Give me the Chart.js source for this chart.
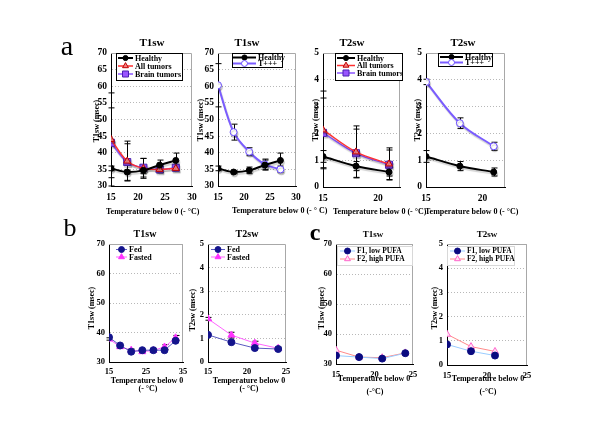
<!DOCTYPE html>
<html>
<head>
<meta charset="utf-8">
<script src="https://cdn.jsdelivr.net/npm/chart.js@4.4.0/dist/chart.umd.min.js"></script>
<style>
body { margin: 0; background: #fff; }
#fig { position: relative; width: 600px; height: 424px; overflow: hidden; font-family: "Liberation Serif", "Times New Roman", serif; }
#fig canvas { position: absolute; }
.t { position: absolute; white-space: nowrap; font-weight: bold; color: #000; line-height: 1; }
</style>
</head>
<body>
<div id="fig"></div>
<script>
// Temperatures (degrees below 0) for each group of measurements
var tempA = [15, 18, 21, 24, 27];
var tempA2 = [15, 18, 21];
var tempB1 = [15, 18, 21, 24, 27, 30, 33];
var tempB2 = [15, 18, 21, 24];
var tempC1 = [15, 18, 21, 24];
var tempC2 = [15, 18, 21];

// panel a, T1sw (msec)
var healthyT1 = [35.3, 34.2, 34.7, 36.3, 37.7];
var healthyT1Err = [0.7, 0.5, 1.0, 1.5, 2.2];
var allTumorsT1 = [44.0, 37.5, 35.3, 35.0, 35.3];
var allTumorsT1Err = [14.0, 6.0, 3.0, 1.0, 0.6];
var brainTumorsT1 = [43.0, 37.2, 35.5, 35.0, 35.5];
var brainTumorsT1Err = [10.5, 5.5, 2.8, 1.0, 0.6];
var tppT1 = [60.3, 46.2, 40.3, 36.5, 35.0];
var tppT1Err = [6.5, 2.4, 1.2, 1.6, 1.0];

// panel a, T2sw (msec)
var healthyT2 = [1.14, 0.78, 0.56];
var healthyT2Err = [0.22, 0.17, 0.15];
var allTumorsT2 = [2.13, 1.31, 0.86];
var allTumorsT2Err = [1.45, 0.97, 0.6];
var brainTumorsT2 = [2.02, 1.26, 0.83];
var brainTumorsT2Err = [1.3, 0.9, 0.55];
var tppT2 = [3.92, 2.38, 1.52];
var tppT2Err = [0.1, 0.2, 0.15];

// panel b, fed / fasted
var fedT1 = [38.4, 35.6, 33.5, 34.0, 34.0, 34.0, 37.2];
var fastedT1 = [37.8, 35.2, 34.0, 33.5, 33.9, 35.1, 38.2];
var fastedT1Err = [0.4, 0.4, 0.4, 0.4, 0.4, 0.8, 0.8];
var fedT2 = [1.15, 0.84, 0.59, 0.55];
var fastedT2 = [1.83, 1.14, 0.80, 0.58];
var fastedT2Err = [0.06, 0.12, 0.08, 0.05];

// panel c, diets
var f1T1 = [32.8, 32.3, 31.8, 33.6];
var f2T1 = [34.6, 32.3, 32.1, 33.7];
var f1T2 = [0.85, 0.57, 0.39];
var f2T2 = [1.27, 0.76, 0.56];

var SERIF = '"Liberation Serif", "Times New Roman", serif';
var L = 40, T = 12, R = 14, B = 26;
var fig = document.getElementById('fig');

Chart.defaults.font.family = SERIF;
Chart.defaults.color = '#000';

function pts(xs, ys) {
	return xs.map(function (x, i) { return {x: x, y: ys[i]}; });
}

function series(label, xs, ys, errs, style) {
	return Object.assign({label: label, data: pts(xs, ys), errors: errs || null, fill: false, pointBorderWidth: 1}, style);
}

// line / marker looks
var sHealthy = {borderColor: '#000', borderWidth: 2, pointStyle: 'circle', pointRadius: 3, pointBackgroundColor: '#000', pointBorderColor: '#000', tension: 0.35};
var sAll = {borderColor: '#ff3030', borderWidth: 1.5, pointStyle: 'triangle', pointRadius: 4, pointBackgroundColor: '#f08080', pointBorderColor: '#c00000', tension: 0.35};
var sBrain = {borderColor: '#8a55ff', borderWidth: 1.5, pointStyle: 'rect', pointRadius: 5, pointBackgroundColor: '#9955ff', pointBorderColor: '#4a20b0', tension: 0.35};
var sTpp = {borderColor: '#7a5cff', borderWidth: 2, pointStyle: 'circle', pointRadius: 3.5, pointBackgroundColor: '#fff', pointBorderColor: '#6a4cff', tension: 0.35};
var sFed = {borderColor: '#5a5ac0', borderWidth: 1, pointStyle: 'circle', pointRadius: 3.5, pointBackgroundColor: '#14148c', pointBorderColor: '#14148c', tension: 0};
var sFasted = {borderColor: '#ff66ff', borderWidth: 1, pointStyle: 'triangle', pointRadius: 4, pointBackgroundColor: '#ff33ff', pointBorderColor: '#ff33ff', tension: 0};
var sF1 = {borderColor: '#99ccff', borderWidth: 1, pointStyle: 'circle', pointRadius: 3.5, pointBackgroundColor: '#0a0a80', pointBorderColor: '#0a0a80', tension: 0};
var sF2 = {borderColor: '#ff8a8a', borderWidth: 1, pointStyle: 'triangle', pointRadius: 4, pointBackgroundColor: '#ffe0f4', pointBorderColor: '#ff66cc', tension: 0};

function drawMarker(ctx, style, x, y, r, fill, stroke, lw) {
	ctx.beginPath();
	if (style === 'triangle') {
		ctx.moveTo(x, y - r);
		ctx.lineTo(x + r * 0.866, y + r / 2);
		ctx.lineTo(x - r * 0.866, y + r / 2);
		ctx.closePath();
	} else if (style === 'rect') {
		var s = r * Math.SQRT1_2;
		ctx.rect(x - s, y - s, 2 * s, 2 * s);
	} else {
		ctx.arc(x, y, r, 0, Math.PI * 2);
	}
	ctx.fillStyle = fill;
	ctx.fill();
	ctx.lineWidth = lw;
	ctx.strokeStyle = stroke;
	ctx.stroke();
}

// frame, error bars, shadows and the in-plot legend
var panelExtras = {
	id: 'panelExtras',
	beforeDatasetsDraw: function (chart) {
		var a = chart.chartArea, ctx = chart.ctx;
		var xs = chart.scales.x, ys = chart.scales.y;
		ctx.save();
		ctx.strokeStyle = '#a8a8a8';
		ctx.lineWidth = 1;
		ctx.beginPath();
		ctx.moveTo(a.left, a.top + 0.5);
		ctx.lineTo(a.right - 0.5, a.top + 0.5);
		ctx.lineTo(a.right - 0.5, a.bottom);
		ctx.stroke();

		ctx.strokeStyle = '#000';
		chart.data.datasets.forEach(function (ds) {
			if (!ds.errors) return;
			ds.data.forEach(function (p, i) {
				var e = ds.errors[i];
				var px = Math.round(xs.getPixelForValue(p.x)) + 0.5;
				var y1 = ys.getPixelForValue(p.y + e), y2 = ys.getPixelForValue(p.y - e);
				ctx.beginPath();
				ctx.moveTo(px, y1); ctx.lineTo(px, y2);
				ctx.moveTo(px - 3, y1); ctx.lineTo(px + 3, y1);
				ctx.moveTo(px - 3, y2); ctx.lineTo(px + 3, y2);
				ctx.stroke();
			});
		});
		ctx.restore();
	},
	beforeDatasetDraw: function (chart, args, o) {
		if (!o.shadow) return;
		var ctx = chart.ctx;
		ctx.shadowColor = 'rgba(0,0,0,0.18)';
		ctx.shadowOffsetX = 1;
		ctx.shadowOffsetY = 2;
		ctx.shadowBlur = 1;
	},
	afterDatasetDraw: function (chart) {
		var ctx = chart.ctx;
		ctx.shadowColor = 'rgba(0,0,0,0)';
		ctx.shadowOffsetX = 0;
		ctx.shadowOffsetY = 0;
		ctx.shadowBlur = 0;
	},
	afterDraw: function (chart, args, o) {
		var lg = o.legend;
		if (!lg) return;
		var ctx = chart.ctx, ox = o.ox, oy = o.oy;
		ctx.save();
		if (lg.box) {
			ctx.fillStyle = '#fff';
			ctx.fillRect(lg.box[0] - ox, lg.box[1] - oy, lg.box[2] - lg.box[0], lg.box[3] - lg.box[1]);
			ctx.strokeStyle = lg.boxColor;
			ctx.lineWidth = 1;
			ctx.strokeRect(lg.box[0] - ox + 0.5, lg.box[1] - oy + 0.5, lg.box[2] - lg.box[0], lg.box[3] - lg.box[1]);
		}
		chart.data.datasets.forEach(function (ds, i) {
			var y = lg.rows[i] - oy, x = lg.sx - ox;
			ctx.strokeStyle = ds.borderColor;
			ctx.lineWidth = ds.borderWidth;
			ctx.beginPath();
			ctx.moveTo(x, y); ctx.lineTo(x + lg.sw, y);
			ctx.stroke();
			drawMarker(ctx, ds.pointStyle, x + lg.sw / 2, y, ds.pointRadius * 0.85, ds.pointBackgroundColor, ds.pointBorderColor, 1);
			ctx.fillStyle = '#000';
			ctx.font = 'bold ' + lg.size + 'px ' + SERIF;
			ctx.textBaseline = 'middle';
			ctx.fillText(ds.label, x + lg.sw + 2, y + 0.5);
		});
		ctx.restore();
	}
};

function makePanel(p) {
	var x0 = p.box[0], y0 = p.box[1], x1 = p.box[2], y1 = p.box[3];
	var cv = document.createElement('canvas');
	var w = x1 - x0 + L + R, h = y1 - y0 + T + B;
	cv.width = w; cv.height = h;
	cv.style.left = (x0 - L) + 'px';
	cv.style.top = (y0 - T) + 'px';
	cv.style.width = w + 'px';
	cv.style.height = h + 'px';
	fig.appendChild(cv);

	return new Chart(cv, {
		type: 'line',
		data: {datasets: p.datasets},
		options: {
			responsive: false,
			animation: false,
			layout: {padding: {top: T, right: R, left: 0, bottom: 0}},
			scales: {
				x: {
					type: 'linear', min: p.x[0], max: p.x[1],
					ticks: {stepSize: p.x[2], includeBounds: false, padding: p.xPad, font: {size: p.tick, weight: 'bold'}, maxRotation: 0},
					grid: {display: false, drawTicks: false},
					border: {color: '#000', width: 1},
					afterFit: function (s) { s.height = B; }
				},
				y: {
					min: p.y[0], max: p.y[1],
					ticks: {stepSize: p.y[2], padding: 4, font: {size: p.tick, weight: 'bold'}},
					grid: {color: '#b8b8b8', drawTicks: false},
					border: {color: '#000', width: 1, dash: [1, 2]},
					afterFit: function (s) { s.width = L; }
				}
			},
			plugins: {
				legend: {display: false},
				tooltip: {enabled: false},
				panelExtras: {legend: p.legend, shadow: p.shadow, ox: x0 - L, oy: y0 - T}
			}
		},
		plugins: [panelExtras]
	});
}

var panels = [
	{box: [111, 53, 192, 186], x: [15, 30, 5], y: [30, 70, 5], tick: 9.5, xPad: 6, shadow: true,
		datasets: [
			series('Healthy', tempA, healthyT1, healthyT1Err, sHealthy),
			series('All tumors', tempA, allTumorsT1, allTumorsT1Err, sAll),
			series('Brain tumors', tempA, brainTumorsT1, brainTumorsT1Err, sBrain)
		],
		legend: {box: [116, 53, 182, 80], boxColor: '#000', rows: [58, 66, 74], sx: 118, sw: 15, size: 8}},
	{box: [218, 53, 296, 186], x: [15, 30, 5], y: [30, 70, 5], tick: 9.5, xPad: 6, shadow: true,
		datasets: [
			series('Healthy', tempA, healthyT1, healthyT1Err, sHealthy),
			series('T+++', tempA, tppT1, tppT1Err, sTpp)
		],
		legend: {box: [232, 53, 282, 67], boxColor: '#000', rows: [57.5, 63.5], sx: 233, sw: 23, size: 8}},
	{box: [323, 53, 400, 187], x: [15, 22, 5], y: [0, 5, 1], tick: 9.5, xPad: 6, shadow: true,
		datasets: [
			series('Healthy', tempA2, healthyT2, healthyT2Err, sHealthy),
			series('All tumors', tempA2, allTumorsT2, allTumorsT2Err, sAll),
			series('Brain tumors', tempA2, brainTumorsT2, brainTumorsT2Err, sBrain)
		],
		legend: {box: [335, 53, 402, 80], boxColor: '#000', rows: [58, 65.5, 73], sx: 337, sw: 18, size: 8}},
	{box: [426, 53, 505, 187], x: [15, 22, 5], y: [0, 5, 1], tick: 9.5, xPad: 6, shadow: true,
		datasets: [
			series('Healthy', tempA2, healthyT2, healthyT2Err, sHealthy),
			series('T+++', tempA2, tppT2, tppT2Err, sTpp)
		],
		legend: {box: [438, 53, 492, 66], boxColor: '#000', rows: [57, 62.5], sx: 440, sw: 23, size: 8}},
	{box: [109, 244, 183, 362], x: [15, 35, 10], y: [30, 70, 10], tick: 8.5, xPad: 5,
		datasets: [
			series('Fed', tempB1, fedT1, null, sFed),
			series('Fasted', tempB1, fastedT1, fastedT1Err, sFasted)
		],
		legend: {box: null, rows: [249.5, 257], sx: 116, sw: 11, size: 8}},
	{box: [208, 244, 286, 362], x: [15, 25, 5], y: [0, 5, 1], tick: 8.5, xPad: 5,
		datasets: [
			series('Fed', tempB2, fedT2, null, sFed),
			series('Fasted', tempB2, fastedT2, fastedT2Err, sFasted)
		],
		legend: {box: null, rows: [249.5, 257], sx: 211, sw: 14, size: 8}},
	{box: [336, 244, 413, 364], x: [15, 25, 5], y: [30, 70, 10], tick: 8.5, xPad: 6,
		datasets: [
			series('F1, low PUFA', tempC1, f1T1, null, sF1),
			series('F2, high PUFA', tempC1, f2T1, null, sF2)
		],
		legend: {box: [337, 246, 412, 265], boxColor: '#d8d8d8', rows: [251, 259], sx: 340, sw: 15, size: 7.5}},
	{box: [447, 244, 527, 365], x: [15, 25, 5], y: [0, 5, 1], tick: 8.5, xPad: 6,
		datasets: [
			series('F1, low PUFA', tempC2, f1T2, null, sF1),
			series('F2, high PUFA', tempC2, f2T2, null, sF2)
		],
		legend: {box: [447, 246, 514, 265], boxColor: '#d8d8d8', rows: [251, 259], sx: 450, sw: 15, size: 7.5}}
];

panels.forEach(makePanel);

// Text around the plots
function addText(str, x, y, size, align, rot, weight) {
	var d = document.createElement('div');
	d.className = 't';
	d.textContent = str;
	d.style.fontSize = size + 'px';
	d.style.left = x + 'px';
	d.style.top = y + 'px';
	if (weight) d.style.fontWeight = weight;
	var tx = align === 'left' ? '0' : '-50%';
	d.style.transform = 'translate(' + tx + ',-50%)' + (rot ? ' rotate(-90deg)' : '');
	fig.appendChild(d);
}

addText('a', 67, 46, 28, 'center', false, 'normal');
addText('b', 70, 228, 26, 'center', false, 'normal');
addText('c', 315, 232, 24, 'center', false, 'bold');

addText('T1sw', 152, 42, 11);
addText('T1sw', 247, 42, 11);
addText('T2sw', 352, 42, 11);
addText('T2sw', 463, 42, 11);
addText('T1sw', 145, 234, 10);
addText('T2sw', 247, 234, 10);
addText('T1sw', 373, 234, 9);
addText('T2sw', 487, 234, 9);

addText('T1sw (msec)', 97, 121, 8, 'center', true);
addText('T1sw (msec)', 201, 120, 8, 'center', true);
addText('T2sw (msec)', 316, 120, 8, 'center', true);
addText('T2sw (msec)', 418, 120, 8, 'center', true);
addText('T1sw (msec)', 92, 308, 8, 'center', true);
addText('T2sw (msec)', 193, 310, 8, 'center', true);
addText('T1sw (msec)', 322, 308, 8, 'center', true);
addText('T2sw (msec)', 435, 308, 8, 'center', true);

addText('Temperature below 0 (- °C)', 106, 212, 8, 'left');
addText('Temperature below 0 (- ° C)', 232, 211, 8, 'left');
addText('Temperature below 0 (- °C)', 333, 212, 8, 'left');
addText('Temperature below 0 (- °C)', 425, 212, 8, 'left');
addText('Temperature below 0', 147, 381, 8);
addText('(- °C)', 148, 389, 8);
addText('Temperature below 0', 249, 381, 8);
addText('(- °C)', 249, 389, 8);
addText('Temperature below 0', 374, 379, 8);
addText('(-°C)', 375, 392, 8);
addText('Temperature below 0', 488, 379, 8);
addText('(-°C)', 488, 392, 8);
</script>
</body>
</html>
